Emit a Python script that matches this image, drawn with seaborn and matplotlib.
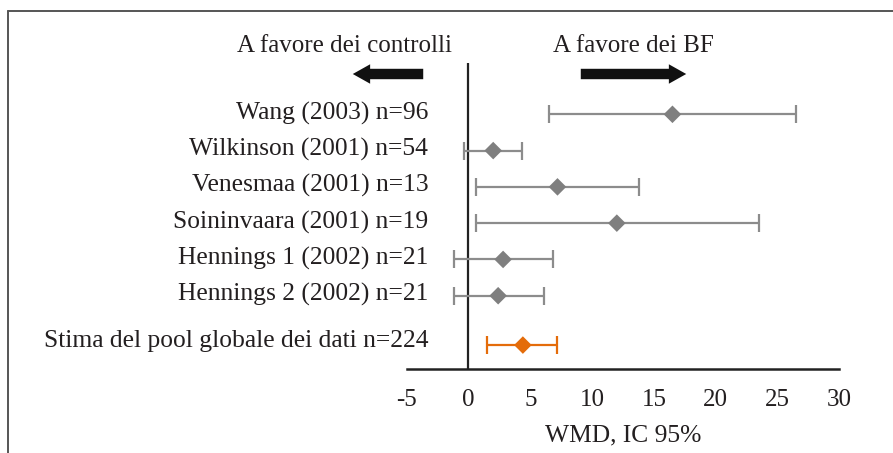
import numpy as np
import pandas as pd
import seaborn as sns
from matplotlib import pyplot as plt
from matplotlib.lines import Line2D

# studies (top to bottom) + pooled estimate
studies = ["Wang (2003) n=96", "Wilkinson (2001) n=54", "Venesmaa (2001) n=13",
           "Soininvaara (2001) n=19", "Hennings 1 (2002) n=21", "Hennings 2 (2002) n=21"]
study_wmd = [16.5, 2.0, 7.2, 12.0, 2.8, 2.4]
study_low = [6.5, -0.4, 0.6, 0.6, -1.2, -1.2]
study_high = [26.5, 4.3, 13.8, 23.5, 6.8, 6.1]

pooled_label = "Stima del pool globale dei dati n=224"
pooled_wmd = 4.4
pooled_low = 1.5
pooled_high = 7.2

x_ticks = [-5, 0, 5, 10, 15, 20, 25, 30]

GREY = "#7f7f7f"
CAP_GREY = "#8c8c8c"
ORANGE = "#e46c0a"
INK = "#231f20"

sns.set_style("white")
plt.rcParams["font.family"] = ["Liberation Serif", "DejaVu Serif"]
plt.rcParams["axes.unicode_minus"] = False

rows = list(range(len(studies)))
pooled_row = rows[-1] + 1.36

df = pd.DataFrame({
    "label": studies + [pooled_label],
    "wmd": study_wmd + [pooled_wmd],
    "low": study_low + [pooled_low],
    "high": study_high + [pooled_high],
    "row": rows + [pooled_row],
    "kind": ["study"] * len(studies) + ["pooled"],
})

fig = plt.figure(figsize=(8.93, 4.53), dpi=100)
ax = fig.add_axes([0.4554, 0.1854, 0.4845, 0.6749])

for _, r in df.iterrows():
    col = ORANGE if r["kind"] == "pooled" else CAP_GREY
    ax.errorbar(r["wmd"], r["row"], xerr=[[r["wmd"] - r["low"]], [r["high"] - r["wmd"]]],
                fmt="none", ecolor=col, elinewidth=1.6, capsize=6.8, capthick=1.6, zorder=2)

sns.scatterplot(data=df, x="wmd", y="row", hue="kind", palette={"study": GREY, "pooled": ORANGE},
                marker="D", s=80, edgecolor="none", legend=False, ax=ax, zorder=3)

ax.axvline(0, color="#222222", lw=1.6, zorder=1)

ax.set_xlim(-5, 30)
ax.set_ylim(7.02, -1.406)
ax.set_xticks(x_ticks)
ax.set_xticklabels([str(t) for t in x_ticks], fontsize=18, color=INK)
ax.tick_params(axis="x", direction="in", length=6, width=1.6, color="#222222", pad=14.5)
ax.set_yticks([])
ax.set_ylabel("")
ax.set_xlabel("WMD, IC 95%", fontsize=18.4, labelpad=9.5, color=INK)

for s in ["top", "right", "left"]:
    ax.spines[s].set_visible(False)
ax.spines["bottom"].set_linewidth(1.8)
ax.spines["bottom"].set_color("#222222")

# row labels, right aligned just left of the zero line
for _, r in df.iterrows():
    y = r["row"] + (0.05 if r["kind"] == "pooled" else 0.14)
    ax.text(-3.25, y, r["label"], ha="right", va="baseline", fontsize=18.4, color=INK)

# header texts and arrows
fig.text(452 / 893, 1 - 51.7 / 453, "A favore dei controlli", ha="right", va="baseline",
         fontsize=18, color=INK)
fig.text(553 / 893, 1 - 51.7 / 453, "A favore dei BF", ha="left", va="baseline",
         fontsize=18, color=INK)
arrow = dict(arrowstyle="simple,head_length=1.25,head_width=1.4,tail_width=0.75",
             mutation_scale=10, color="#111111", lw=0)
ax.annotate("", xy=(350 / 893, 1 - 74 / 453), xytext=(426 / 893, 1 - 74 / 453),
            xycoords="figure fraction", textcoords="figure fraction", arrowprops=arrow)
ax.annotate("", xy=(689 / 893, 1 - 74 / 453), xytext=(578 / 893, 1 - 74 / 453),
            xycoords="figure fraction", textcoords="figure fraction", arrowprops=arrow)

# outer frame lines (top and left)
fig.add_artist(Line2D([8 / 893, 1], [1 - 10.5 / 453] * 2, color="#555555", lw=1.4))
fig.add_artist(Line2D([8 / 893] * 2, [0, 1 - 10.5 / 453], color="#555555", lw=1.4))

fig.savefig("out.png", dpi=100)
